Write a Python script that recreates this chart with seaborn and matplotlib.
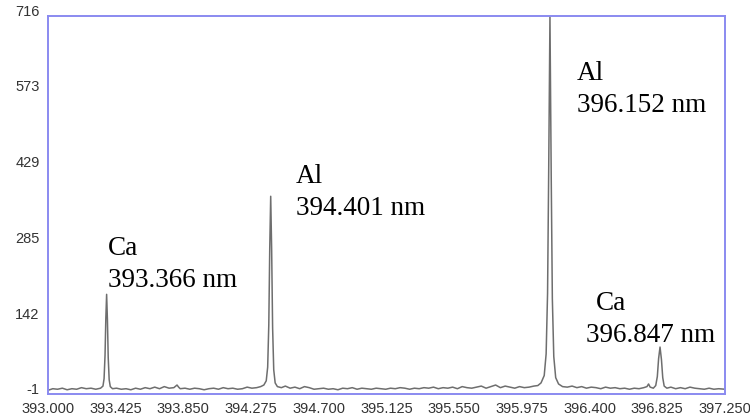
import matplotlib
matplotlib.use("Agg")
import matplotlib.pyplot as plt
import matplotlib.transforms as mtransforms
import seaborn as sns

# spectrum (wavelength in nm, intensity in counts)
wavelength_nm = [
    393.000, 393.030, 393.060, 393.090, 393.120, 393.150, 393.180, 393.210, 393.240, 393.270,
    393.300, 393.330, 393.345, 393.352, 393.358, 393.363, 393.368, 393.373, 393.378, 393.384,
    393.391, 393.405, 393.430, 393.460, 393.490, 393.520, 393.550, 393.580, 393.610, 393.640,
    393.670, 393.700, 393.730, 393.760, 393.790, 393.810, 393.820, 393.830, 393.860, 393.890,
    393.920, 393.950, 393.980, 394.010, 394.040, 394.070, 394.100, 394.130, 394.160, 394.190,
    394.220, 394.250, 394.280, 394.310, 394.335, 394.355, 394.370, 394.379, 394.386, 394.392,
    394.398, 394.404, 394.410, 394.417, 394.426, 394.440, 394.465, 394.490, 394.520, 394.550,
    394.580, 394.610, 394.640, 394.670, 394.700, 394.730, 394.760, 394.790, 394.820, 394.850,
    394.880, 394.910, 394.940, 394.970, 395.000, 395.030, 395.060, 395.090, 395.120, 395.150,
    395.180, 395.210, 395.240, 395.270, 395.300, 395.330, 395.360, 395.390, 395.420, 395.450,
    395.480, 395.510, 395.540, 395.570, 395.600, 395.630, 395.660, 395.690, 395.720, 395.750,
    395.780, 395.810, 395.840, 395.870, 395.900, 395.930, 395.960, 395.990, 396.020, 396.050,
    396.075, 396.095, 396.115, 396.127, 396.136, 396.143, 396.151, 396.159, 396.166, 396.175,
    396.187, 396.205, 396.230, 396.260, 396.290, 396.320, 396.350, 396.380, 396.410, 396.440,
    396.470, 396.500, 396.530, 396.560, 396.590, 396.620, 396.650, 396.680, 396.710, 396.740,
    396.760, 396.770, 396.780, 396.800, 396.815, 396.825, 396.833, 396.842, 396.851, 396.859,
    396.868, 396.885, 396.910, 396.940, 396.970, 397.000, 397.030, 397.060, 397.090, 397.120,
    397.150, 397.180, 397.210, 397.250,
]
intensity = [
    6, 9, 8, 10, 7, 9, 8, 11, 9, 10,
    8, 10, 14, 28, 72, 142, 188, 140, 68, 26,
    13, 9, 10, 8, 9, 7, 10, 8, 11, 9,
    12, 9, 13, 10, 11, 16, 12, 9, 10, 8,
    10, 9, 7, 9, 10, 8, 11, 9, 10, 8,
    9, 12, 10, 11, 13, 16, 24, 50, 130, 275,
    374, 272, 125, 45, 20, 13, 11, 14, 10, 12,
    9, 13, 11, 8, 9, 10, 8, 9, 7, 10,
    9, 11, 8, 10, 9, 8, 10, 9, 8, 10,
    9, 11, 10, 8, 10, 9, 11, 10, 12, 9,
    11, 10, 12, 9, 13, 11, 10, 12, 14, 10,
    13, 16, 11, 14, 12, 10, 13, 11, 12, 14,
    15, 20, 34, 75, 190, 420, 716, 410, 180, 70,
    30, 18, 13, 12, 14, 11, 13, 10, 12, 11,
    9, 12, 10, 11, 9, 10, 8, 10, 9, 11,
    13, 18, 12, 10, 15, 32, 66, 88, 64, 30,
    14, 10, 12, 9, 11, 9, 12, 10, 9, 8,
    10, 8, 9, 8,
]

x_ticks = [393.000, 393.425, 393.850, 394.275, 394.700, 395.125, 395.550, 395.975, 396.400, 396.825, 397.250]
y_ticks = [-1, 142, 285, 429, 573, 716]

# peak labels: element, line wavelength
elements = ["Ca", "Al", "Al", "Ca"]
line_labels = ["393.366 nm", "394.401 nm", "396.152 nm", "396.847 nm"]
# text placement (data coords): element x, element y, wavelength x, wavelength y
label_pos = [
    (393.377, 262.7, 393.377, 202.5),
    (394.557, 399.2, 394.557, 338.5),
    (396.321, 594.6, 396.321, 533.9),
    (396.440, 158.3, 396.377, 97.6),
]

sns.set_style("white")
plt.rcParams["font.family"] = ["Liberation Sans", "DejaVu Sans"]

fig = plt.figure(figsize=(7.5, 4.19), dpi=100)
ax = fig.add_axes([0.064, 0.0597, 0.9027, 0.9022])

sns.lineplot(x=wavelength_nm, y=intensity, ax=ax, color="#6e6e6e", linewidth=1.1)

ax.set_xlim(393.0, 397.25)
ax.set_ylim(-1, 716)
ax.set_xticks(x_ticks)
ax.set_xticklabels([f"{v:.3f}" for v in x_ticks])
ax.set_yticks(y_ticks)
ax.set_yticklabels([str(v) for v in y_ticks])

frame_col = "#8a8af0"
for s in ax.spines.values():
    s.set_color(frame_col)
    s.set_linewidth(1.4)
ax.tick_params(axis="both", direction="out", length=4, width=1, color=frame_col,
               labelsize=10.5, labelcolor="#333333", pad=2)

# y labels sit a little above their ticks in the original
shift = mtransforms.ScaledTranslation(0, 4 / 72, fig.dpi_scale_trans)
for lab in ax.get_yticklabels():
    lab.set_transform(lab.get_transform() + shift)

for el, wl, (ex, ey, wx, wy) in zip(elements, line_labels, label_pos):
    ax.text(ex, ey, el, family="Liberation Serif", fontsize=19.5, color="black",
            va="baseline", ha="left")
    ax.text(wx, wy, wl, family="Liberation Serif", fontsize=19.5, color="black",
            va="baseline", ha="left")

fig.savefig("out.png", dpi=100)
